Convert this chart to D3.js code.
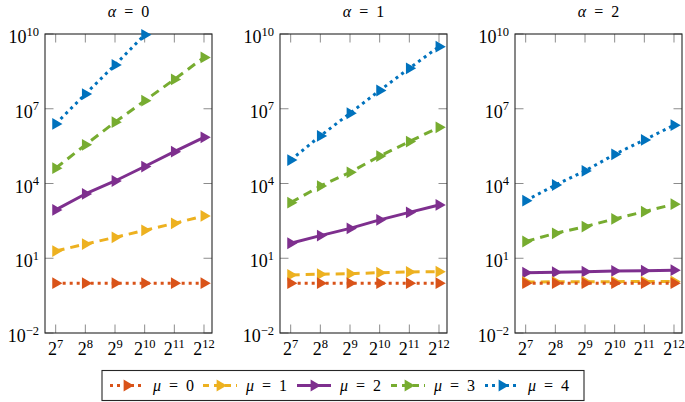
<!DOCTYPE html>
<html>
<head>
<meta charset="utf-8">
<script src="https://cdn.jsdelivr.net/npm/d3@7"></script>
<style>
  html, body { margin: 0; padding: 0; background: #fff; }
  svg { display: block; }
</style>
</head>
<body>
<svg id="chart" width="685" height="402"></svg>
<script>
// ---------- data ----------
const sizes = [128, 256, 512, 1024, 2048, 4096];          // 2^7 .. 2^12
const xTickExps = ["7", "8", "9", "10", "11", "12"];
const yTicks = [1e-2, 1e1, 1e4, 1e7, 1e10];
const yTickExps = ["\u22122", "1", "4", "7", "10"];
const alphas = ["0", "1", "2"];
const mus = ["0", "1", "2", "3", "4"];
const colors = ["#D95319", "#EDB120", "#7E2F8E", "#77AC30", "#0072BD"];
const dashes = ["3,4", "9,6", null, "9,6", "3,4"];

// alpha = 0
const a0_mu0 = [1, 1, 1, 1, 1, 1];
const a0_mu1 = [19.5, 37, 69, 132, 251, 500];
const a0_mu2 = [870, 3800, 12600, 48000, 190000, 710000];
const a0_mu3 = [41000, 355000, 2.9e6, 2.1e7, 1.5e8, 1.15e9];
const a0_mu4 = [2.45e6, 3.9e7, 5.75e8, 9.3e9, null, null];
// alpha = 1
const a1_mu0 = [1, 1, 1, 1, 1, 1];
const a1_mu1 = [2.14, 2.29, 2.4, 2.63, 2.82, 2.88];
const a1_mu2 = [40, 81, 158, 347, 692, 1380];
const a1_mu3 = [1700, 7900, 28000, 126000, 480000, 1.8e6];
const a1_mu4 = [87000, 810000, 6.6e6, 5.4e7, 4.2e8, 3.1e9];
// alpha = 2
const a2_mu0 = [1, 1, 1, 1, 1, 1];
const a2_mu1 = [1.12, 1.13, 1.14, 1.15, 1.16, 1.17];
const a2_mu2 = [2.63, 2.75, 2.88, 3.09, 3.16, 3.31];
const a2_mu3 = [47, 100, 186, 380, 740, 1480];
const a2_mu4 = [2040, 8700, 32000, 148000, 560000, 2.2e6];

const panelsData = [
  [a0_mu0, a0_mu1, a0_mu2, a0_mu3, a0_mu4],
  [a1_mu0, a1_mu1, a1_mu2, a1_mu3, a1_mu4],
  [a2_mu0, a2_mu1, a2_mu2, a2_mu3, a2_mu4]
];

// ---------- layout ----------
const FONT = "'Liberation Serif', 'DejaVu Serif', 'Times New Roman', serif";
const svg = d3.select("#chart").attr("font-family", FONT);
const panelLefts = [45, 280, 515];
const panelW = 167;
const plotTop = 34, plotBottom = 333;

const x = d3.scaleLog().base(2).domain([Math.pow(2, 6.64), Math.pow(2, 12.27)]).range([0, panelW]);
const y = d3.scaleLog().domain([1e-2, 1e10]).range([plotBottom, plotTop]);

const triR = 6.8;
function triPath(r) {
  const h = r * Math.sqrt(3) / 2;
  return `M${r},0L${-r / 2},${-h}L${-r / 2},${h}Z`;
}

panelsData.forEach((series, pi) => {
  const g = svg.append("g").attr("transform", `translate(${panelLefts[pi]},0)`);

  // title
  const t = g.append("text").attr("x", panelW / 2).attr("y", 16.5)
    .attr("text-anchor", "middle").attr("font-size", 16).attr("font-family", FONT);
  t.append("tspan").attr("font-style", "italic").text("\u03b1");
  t.append("tspan").text("\u2002=\u2002" + alphas[pi]);

  // ticks (inward, on all four sides)
  const tickLen = 8.5;
  const tickG = g.append("g").attr("stroke", "#8c8c8c").attr("stroke-width", 1);
  sizes.forEach(s => {
    const xs = x(s);
    tickG.append("line").attr("x1", xs).attr("x2", xs).attr("y1", plotBottom).attr("y2", plotBottom - tickLen);
    tickG.append("line").attr("x1", xs).attr("x2", xs).attr("y1", plotTop).attr("y2", plotTop + tickLen);
  });
  yTicks.forEach(v => {
    const ys = y(v);
    tickG.append("line").attr("x1", 0).attr("x2", tickLen).attr("y1", ys).attr("y2", ys);
    tickG.append("line").attr("x1", panelW).attr("x2", panelW - tickLen).attr("y1", ys).attr("y2", ys);
  });

  // frame
  g.append("rect").attr("x", 0).attr("y", plotTop).attr("width", panelW).attr("height", plotBottom - plotTop)
    .attr("fill", "none").attr("stroke", "#262626").attr("stroke-width", 1.1);

  // x tick labels
  sizes.forEach((s, i) => {
    const tx = g.append("text").attr("x", x(s)).attr("y", 355)
      .attr("text-anchor", "middle").attr("font-size", 18).attr("font-family", FONT);
    tx.append("tspan").text("2");
    tx.append("tspan").attr("font-size", 12.5).attr("dy", -7.5).text(xTickExps[i]);
  });

  // y tick labels
  yTicks.forEach((v, i) => {
    const ty = g.append("text").attr("x", -6).attr("y", y(v) + 9)
      .attr("text-anchor", "end").attr("font-size", 18).attr("font-family", FONT);
    ty.append("tspan").text("10");
    ty.append("tspan").attr("font-size", 12.5).attr("dy", -7.5).text(yTickExps[i]);
  });

  // series (drawn from mu=4 down to mu=0 so mu=0 is on top)
  const line = d3.line()
    .defined(d => d.v != null)
    .x(d => x(d.s))
    .y(d => y(d.v));

  for (let k = series.length - 1; k >= 0; k--) {
    const pts = sizes.map((s, i) => ({ s: s, v: series[k][i] }));
    const sg = g.append("g");
    sg.append("path").datum(pts)
      .attr("d", line)
      .attr("fill", "none")
      .attr("stroke", colors[k])
      .attr("stroke-width", 3)
      .attr("stroke-dasharray", dashes[k])
      .attr("stroke-linejoin", "round");
    sg.selectAll("path.m").data(pts.filter(d => d.v != null)).enter()
      .append("path").attr("class", "m")
      .attr("d", triPath(triR))
      .attr("transform", d => `translate(${x(d.s)},${y(d.v)})`)
      .attr("fill", colors[k]);
  }
});

// ---------- legend ----------
const lg = svg.append("g");
lg.append("rect").attr("x", 102).attr("y", 370.5).attr("width", 482).attr("height", 30)
  .attr("fill", "#fff").attr("stroke", "#262626").attr("stroke-width", 1.1);
const sampleX = [110, 203, 297, 391, 485];
const ly = 385.5;
mus.forEach((m, k) => {
  const sx = sampleX[k];
  lg.append("line").attr("x1", sx).attr("x2", sx + 34).attr("y1", ly).attr("y2", ly)
    .attr("stroke", colors[k]).attr("stroke-width", 3)
    .attr("stroke-dasharray", dashes[k] ? (dashes[k] === "3,4" ? "3,4" : "6,5") : null);
  lg.append("path").attr("d", triPath(triR))
    .attr("transform", `translate(${sx + 17},${ly})`).attr("fill", colors[k]);
  const tt = lg.append("text").attr("x", sx + 43).attr("y", 390.5).attr("font-size", 16).attr("font-family", FONT);
  tt.append("tspan").attr("font-style", "italic").text("\u03bc");
  tt.append("tspan").text("\u2002=\u2002" + m);
});
</script>
</body>
</html>
